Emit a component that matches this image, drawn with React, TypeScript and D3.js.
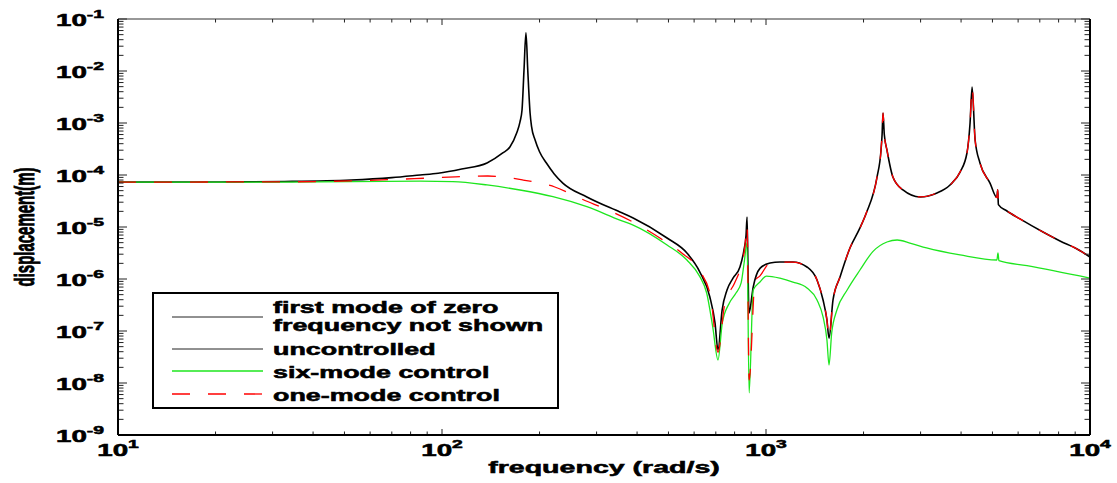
import React from 'react';
import * as d3 from 'd3';

type Pt = [number, number];

// frequency (rad/s), displacement (m)
const uncontrolled: Pt[] = [
  [10, 7.3e-5], [20, 7.35e-5], [32.7, 7.5e-5], [52.4, 8.0e-5], [70, 8.9e-5], [85.6, 1.0e-4],
  [97.3, 1.08e-4], [115, 1.3e-4], [137.7, 1.7e-4], [154, 2.65e-4], [162, 3.45e-4], [170, 6.4e-4],
  [174, 1.04e-3], [176.6, 1.78e-3], [179.1, 1.04e-2], [181.6, 0.054], [184, 1.0e-2], [187, 1.56e-3],
  [189, 8.5e-4], [193.8, 4.71e-4], [200, 2.8e-4], [210, 1.7e-4], [222, 1.05e-4], [236, 7.0e-5],
  [280, 3.78e-5], [354, 1.94e-5], [389, 1.49e-5], [495, 6.14e-6], [570, 3.16e-6], [625, 1.36e-6],
  [671, 4.51e-7], [696, 1.43e-7], [711, 4.3e-8], [732, 2.53e-7], [758, 6.14e-7], [791, 1.04e-6],
  [831, 1.7e-6], [855, 3.61e-6], [868, 7e-6], [874, 1.56e-5], [880, 1.5e-6], [886, 2.2e-7],
  [913, 7.0e-7], [958, 1.6e-6], [1029, 2.03e-6], [1104, 2.12e-6], [1211, 2.12e-6], [1338, 1.7e-6],
  [1437, 9.6e-7], [1500, 3.95e-7], [1542, 1.63e-7], [1565, 7.3e-8], [1610, 3.95e-7],
  [1692, 1.09e-6], [1816, 3.95e-6], [1950, 9.6e-6], [2040, 1.86e-5], [2202, 9.2e-5],
  [2265, 3.03e-4], [2282, 6e-4], [2297, 1.56e-3], [2318, 6e-4], [2362, 3.03e-4], [2464, 9.16e-5],
  [2647, 5.15e-5], [2988, 3.78e-5], [3371, 4.51e-5], [3698, 6.43e-5], [3972, 1.14e-4],
  [4171, 2.65e-4], [4264, 1.0e-3], [4326, 4.9e-3], [4420, 4.71e-4], [4575, 1.7e-4],
  [4913, 7.0e-5], [5160, 3.7e-5], [5190, 5.2e-5], [5215, 2.7e-5], [5541, 2.03e-5],
  [6079, 1.43e-5], [7161, 8.0e-6], [8080, 5.38e-6], [9120, 3.78e-6], [10000, 2.65e-6],
];

const sixMode: Pt[] = [
  [10, 7.3e-5], [32.7, 7.3e-5], [52.4, 7.45e-5], [85.6, 7.6e-5], [108, 7.45e-5], [137.7, 6.43e-5],
  [174, 5.15e-5], [220, 3.83e-5], [280, 2.46e-5], [354, 1.36e-5], [389, 1.09e-5], [495, 4.51e-6],
  [570, 2.32e-6], [625, 1.11e-6], [656, 5.38e-7], [685, 1.19e-7], [711, 2.77e-8], [733, 1.43e-7],
  [771, 3.45e-7], [808, 5.38e-7], [838, 8.4e-7], [856, 2.03e-6], [874, 5.0e-6], [887, 6.43e-9],
  [913, 6.14e-7], [958, 8.75e-7], [1003, 1.14e-6], [1104, 1.04e-6], [1211, 8.75e-7],
  [1338, 6.72e-7], [1437, 3.95e-7], [1500, 1.86e-7], [1542, 6.7e-8], [1565, 2.22e-8],
  [1595, 9.2e-8], [1655, 2.53e-7], [1780, 6.14e-7], [1950, 1.49e-6], [2140, 3.4e-6],
  [2362, 5.15e-6], [2540, 5.62e-6], [2780, 4.92e-6], [3130, 3.95e-6], [3972, 2.9e-6],
  [5160, 2.32e-6], [5200, 3.16e-6], [5235, 2.25e-6], [6392, 1.8e-6], [10000, 1.04e-6],
];

const oneModeLow: Pt[] = [
  [10, 7.3e-5], [32.7, 7.4e-5], [52.4, 7.7e-5], [82, 8.5e-5], [110, 9.2e-5], [138.5, 9.57e-5],
  [178, 8.0e-5], [223, 5.88e-5], [272, 3.38e-5], [330, 2.03e-5], [401, 1.12e-5], [473, 6.0e-6],
  [552, 3.09e-6], [625, 1.43e-6], [675, 4.5e-7], [711, 3.9e-8], [745, 3.16e-7], [800, 8.4e-7],
  [838, 1.78e-6], [860, 4.0e-6], [874, 1.09e-5], [887, 1.14e-8], [925, 9.2e-7], [958, 1.15e-6],
];
// above ~1000 rad/s the one-mode curve lies on the uncontrolled one
const oneMode: Pt[] = [...oneModeLow, ...uncontrolled.filter(([f]) => f >= 1029)];

const xDecades = [10, 100, 1000, 10000];
const xExponents = ['1', '2', '3', '4'];
const yDecades = [1e-1, 1e-2, 1e-3, 1e-4, 1e-5, 1e-6, 1e-7, 1e-8, 1e-9];
const yExponents = ['-1', '-2', '-3', '-4', '-5', '-6', '-7', '-8', '-9'];
const minorMultipliers = [2, 3, 4, 5, 6, 7, 8, 9];

const legendLabels = [
  ['first mode of zero', 'frequency not shown'],
  ['uncontrolled'],
  ['six-mode control'],
  ['one-mode control'],
];

const W = 1117;
const H = 483;
const L = 118, R = 1090, T = 19, B = 435;
const SX = 1.68;
const FONT = 'Liberation Sans, Arial, Helvetica, sans-serif';
const GREEN = '#1ee61e';
const TS = 0.55; // text stroke to thicken glyphs

export default function App() {
  const x = d3.scaleLog().domain([10, 1e4]).range([L, R]);
  const y = d3.scaleLog().domain([1e-9, 1e-1]).range([B, T]);
  const line = d3.line<Pt>().x(d => x(d[0])).y(d => y(d[1])).curve(d3.curveMonotoneX);

  const xMinor: number[] = [];
  xDecades.slice(0, -1).forEach(d => minorMultipliers.forEach(k => xMinor.push(d * k)));
  const yMinor: number[] = [];
  yDecades.slice(0, -1).forEach(d => minorMultipliers.forEach(k => yMinor.push((d / 10) * k)));

  const legendRows = [
    { color: '#222', dash: undefined as string | undefined, width: 1, lineY: 317, textY: [313, 331] },
    { color: '#222', dash: undefined, width: 1, lineY: 349, textY: [355] },
    { color: GREEN, dash: undefined, width: 1.5, lineY: 371, textY: [377.5] },
    { color: '#ff0000', dash: '18 18', width: 1.3, lineY: 394, textY: [400.5] },
  ];

  return (
    <svg width={W} height={H} style={{ position: 'absolute', left: 0, top: 0, background: '#fff' }}
      fontFamily={FONT} fontWeight="bold">
      <defs>
        <clipPath id="plotClip">
          <rect x={L} y={T} width={R - L} height={B - T} />
        </clipPath>
      </defs>
      <rect x={0} y={0} width={W} height={H} fill="#fff" />

      <g clipPath="url(#plotClip)" fill="none">
        <path d={line(uncontrolled) || ''} stroke="#000" strokeWidth={1.6} />
        <path d={line(sixMode) || ''} stroke={GREEN} strokeWidth={1.3} />
        <path d={line(oneMode) || ''} stroke="#ff0000" strokeWidth={1.3} strokeDasharray="18 18" />
      </g>

      {/* ticks */}
      <g stroke="#222" strokeWidth={1}>
        {xDecades.map(v => (
          <g key={'xM' + v}>
            <line x1={x(v)} x2={x(v)} y1={B} y2={B - 6} />
            <line x1={x(v)} x2={x(v)} y1={T} y2={T + 6} />
          </g>
        ))}
        {xMinor.map(v => (
          <g key={'xm' + v}>
            <line x1={x(v)} x2={x(v)} y1={B} y2={B - 3.5} />
            <line x1={x(v)} x2={x(v)} y1={T} y2={T + 3.5} />
          </g>
        ))}
        {yDecades.map(v => (
          <g key={'yM' + v}>
            <line x1={L} x2={L + 9} y1={y(v)} y2={y(v)} />
            <line x1={R} x2={R - 9} y1={y(v)} y2={y(v)} />
          </g>
        ))}
        {yMinor.map(v => (
          <g key={'ym' + v}>
            <line x1={L} x2={L + 5.5} y1={y(v)} y2={y(v)} />
            <line x1={R} x2={R - 5.5} y1={y(v)} y2={y(v)} />
          </g>
        ))}
      </g>

      {/* frame */}
      <line x1={L} x2={R} y1={T} y2={T} stroke="#333" strokeWidth={1.2} />
      <line x1={L} x2={R} y1={B} y2={B} stroke="#000" strokeWidth={2} />
      <line x1={L} x2={L} y1={T} y2={B} stroke="#000" strokeWidth={2} />
      <line x1={R} x2={R} y1={T} y2={B} stroke="#000" strokeWidth={2} />

      <g fill="#000" stroke="#000" strokeWidth={TS}>
        {/* y tick labels */}
        {yDecades.map((v, i) => (
          <text key={'yl' + v} transform={`translate(104,${y(v) + 7}) scale(${SX},1)`}
            textAnchor="end" fontSize={16.5}>
            <tspan>10</tspan>
            <tspan dy={-7.7} fontSize={11.5}>{yExponents[i]}</tspan>
          </text>
        ))}

        {/* x tick labels */}
        {xDecades.map((v, i) => (
          <text key={'xl' + v} transform={`translate(${x(v)},${B + 21}) scale(${SX},1)`}
            textAnchor="middle" fontSize={16.5}>
            <tspan>10</tspan>
            <tspan dy={-8} fontSize={11.5}>{xExponents[i]}</tspan>
          </text>
        ))}

        {/* axis titles */}
        <text transform={`translate(${(L + R) / 2},473) scale(${SX},1)`} textAnchor="middle"
          fontSize={17}>frequency (rad/s)</text>
        <text transform={`translate(34,${(T + B) / 2}) scale(${SX},1) rotate(-90)`} textAnchor="middle"
          fontSize={17} textLength={119} lengthAdjust="spacingAndGlyphs">displacement(m)</text>
      </g>

      {/* legend */}
      <g>
        <rect x={153} y={293} width={405} height={115} fill="#fff" stroke="#000" strokeWidth={2} />
        {legendRows.map((r, i) => (
          <g key={'lg' + i}>
            <line x1={172} x2={263} y1={r.lineY} y2={r.lineY} stroke={r.color} strokeWidth={r.width}
              strokeDasharray={r.dash} />
            {legendLabels[i].map((t, j) => (
              <text key={j} transform={`translate(273,${r.textY[j]}) scale(${SX},1)`} fontSize={16}
                fill="#000" stroke="#000" strokeWidth={TS}>{t}</text>
            ))}
          </g>
        ))}
      </g>
    </svg>
  );
}
